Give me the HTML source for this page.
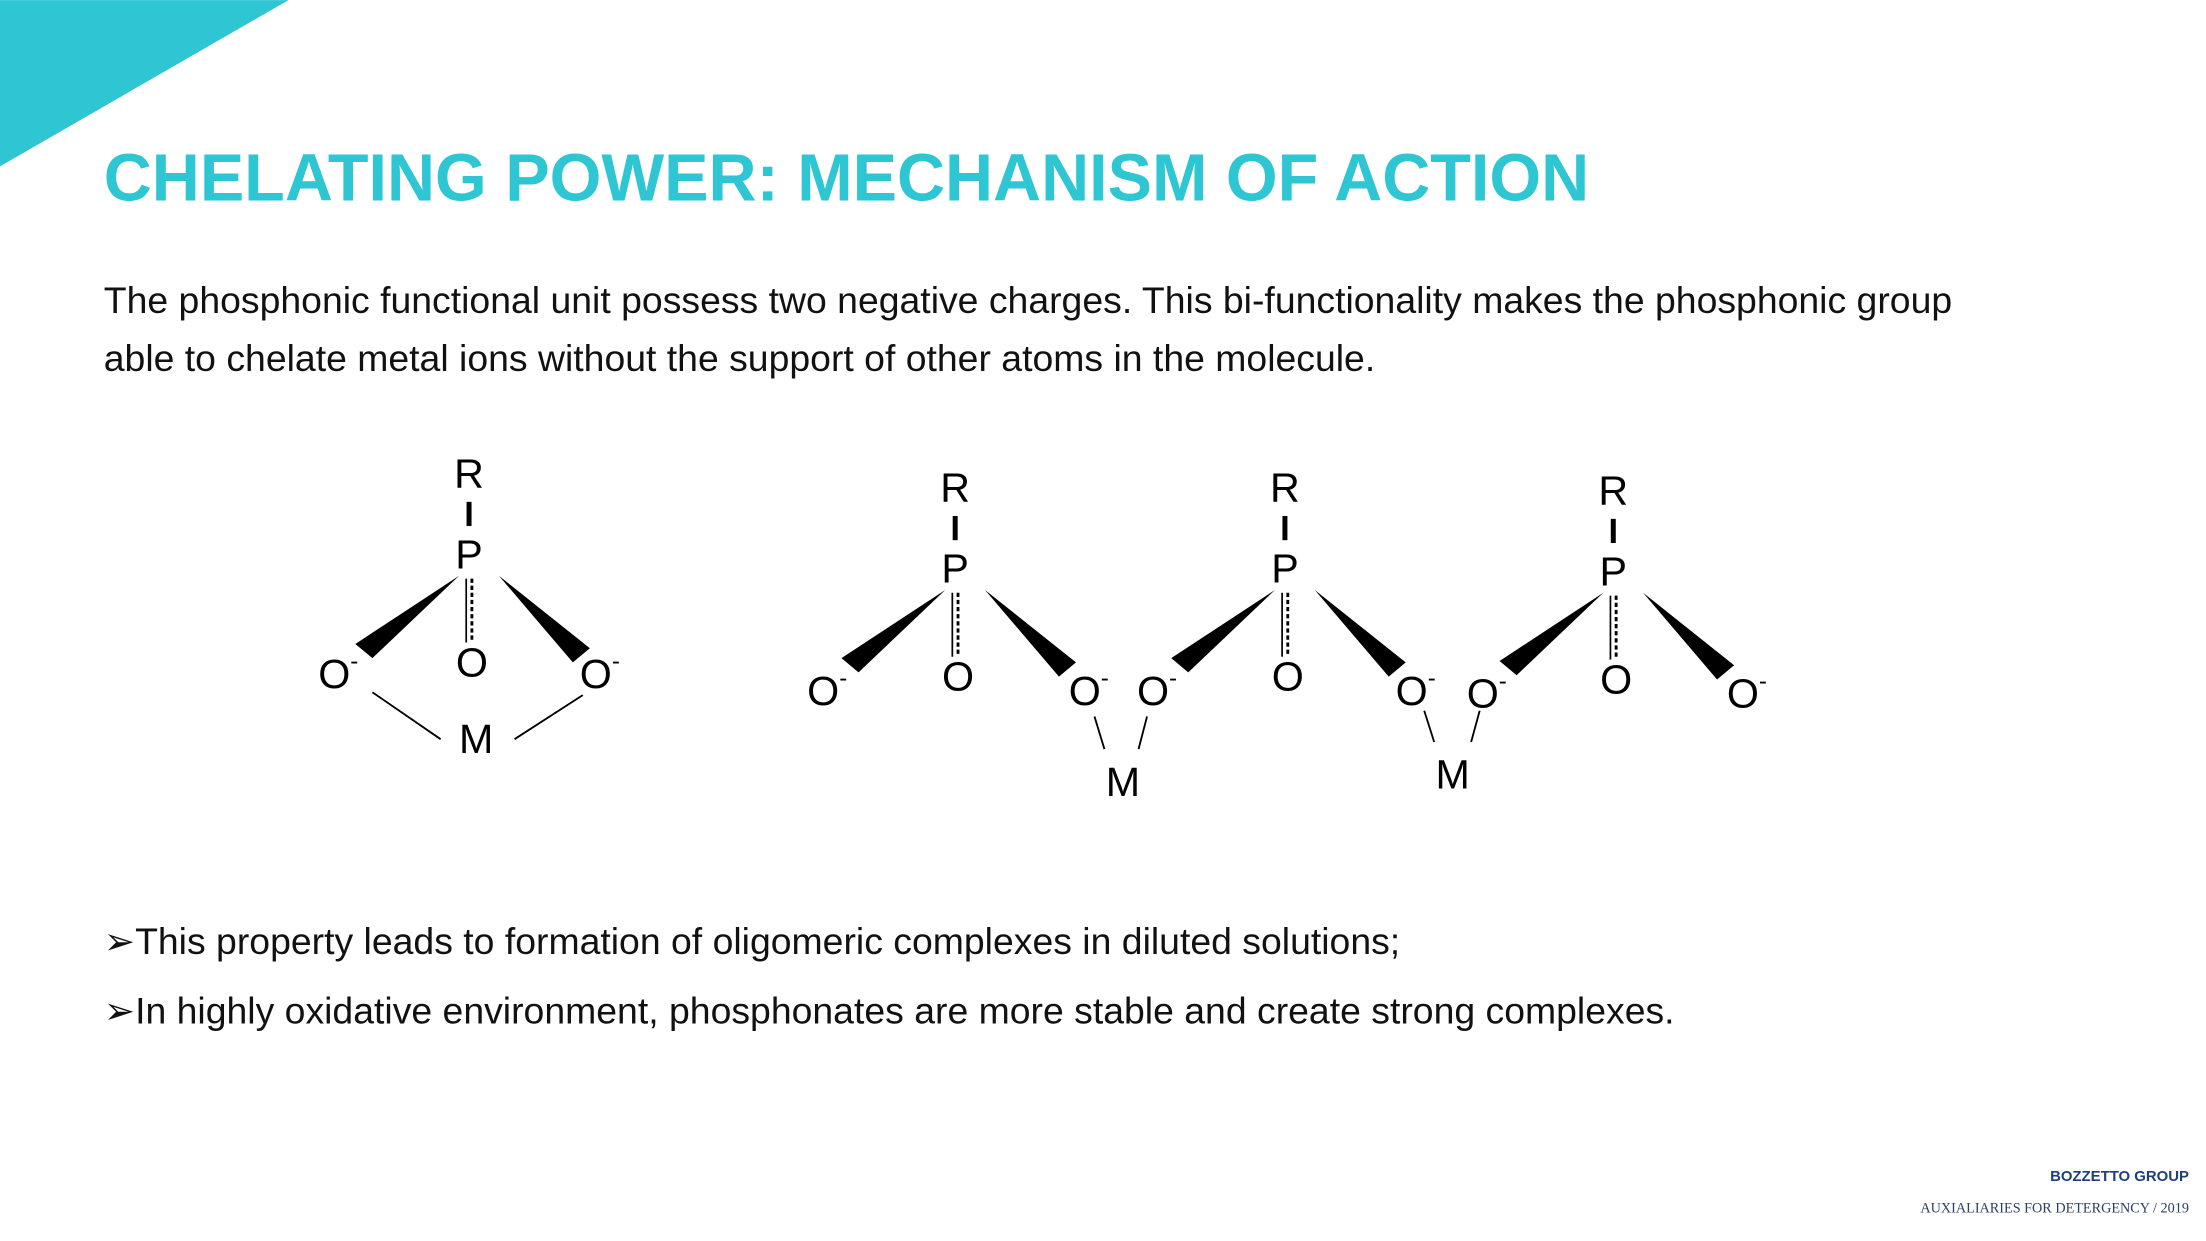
<!DOCTYPE html>
<html><head><meta charset="utf-8"><style>
html,body{margin:0;padding:0;background:#fff;}
svg{display:block;}
</style></head><body>
<svg width="2206" height="1241" viewBox="0 0 1552 873" xmlns="http://www.w3.org/2000/svg">
<defs>
<g id="u">
<text x="0" y="-57" font-family="Liberation Sans, sans-serif" font-size="29" text-anchor="middle" dominant-baseline="central">R</text>
<line x1="0" y1="-37" x2="0" y2="-20" stroke="#000" stroke-width="3.5"/>
<text x="0" y="0" font-family="Liberation Sans, sans-serif" font-size="29" text-anchor="middle" dominant-baseline="central">P</text>
<line x1="-2" y1="17" x2="-2" y2="62" stroke="#000" stroke-width="1.2"/>
<line x1="2" y1="17" x2="2" y2="62" stroke="#000" stroke-width="2" stroke-dasharray="3,2"/>
<text x="2" y="76" font-family="Liberation Sans, sans-serif" font-size="29" text-anchor="middle" dominant-baseline="central">O</text>
<polygon points="-7,15 -80,63 -68,73" fill="#000"/>
<polygon points="21,15 73,76 85,66" fill="#000"/>
</g>
</defs>
<rect width="1552" height="873" fill="#fff"/>
<polygon points="0,0 203,0 0,117" fill="#2ec6d2"/>
<text x="73" y="141" font-family="Liberation Sans, sans-serif" font-weight="bold" font-size="46.8" fill="#2ec6d2">CHELATING POWER: MECHANISM OF ACTION</text>
<text font-family="Liberation Sans, sans-serif" font-size="26.3" fill="#111">
<tspan x="73" y="220">The phosphonic functional unit possess two negative charges. This bi-functionality makes the phosphonic group</tspan>
<tspan x="73" y="261">able to chelate metal ions without the support of other atoms in the molecule.</tspan>
</text>
<g font-family="Liberation Sans, sans-serif" font-size="29" dominant-baseline="central">
<use href="#u" x="330" y="390"/>
<text x="238" y="474" text-anchor="middle">O<tspan font-size="17" dy="-9">-</tspan></text>
<text x="422" y="474" text-anchor="middle">O<tspan font-size="17" dy="-9">-</tspan></text>
<text x="335" y="520" text-anchor="middle">M</text>
<line x1="262" y1="487" x2="310" y2="520" stroke="#000" stroke-width="1.3"/>
<line x1="362" y1="520" x2="410" y2="489" stroke="#000" stroke-width="1.3"/>

<use href="#u" x="672" y="400"/>
<use href="#u" x="904" y="400"/>
<use href="#u" x="1135" y="402"/>
<text x="582" y="486" text-anchor="middle">O<tspan font-size="17" dy="-9">-</tspan></text>
<text x="766" y="486" text-anchor="middle">O<tspan font-size="17" dy="-9">-</tspan></text>
<text x="814" y="486" text-anchor="middle">O<tspan font-size="17" dy="-9">-</tspan></text>
<text x="996" y="486" text-anchor="middle">O<tspan font-size="17" dy="-9">-</tspan></text>
<text x="1046" y="488" text-anchor="middle">O<tspan font-size="17" dy="-9">-</tspan></text>
<text x="1229" y="488" text-anchor="middle">O<tspan font-size="17" dy="-9">-</tspan></text>
<text x="790" y="550" text-anchor="middle">M</text>
<text x="1022" y="545" text-anchor="middle">M</text>
<line x1="770" y1="504" x2="777" y2="527" stroke="#000" stroke-width="1.3"/>
<line x1="807" y1="504" x2="801" y2="527" stroke="#000" stroke-width="1.3"/>
<line x1="1002" y1="500" x2="1009" y2="522" stroke="#000" stroke-width="1.3"/>
<line x1="1041" y1="500" x2="1035" y2="522" stroke="#000" stroke-width="1.3"/>
</g>
<text font-family="Liberation Sans, DejaVu Sans, sans-serif" font-size="26.3" fill="#111">
<tspan x="73" y="671">➢This property leads to formation of oligomeric complexes in diluted solutions;</tspan>
<tspan x="73" y="720">➢In highly oxidative environment, phosphonates  are more stable and create strong complexes.</tspan>
</text>
<text x="1540" y="831" text-anchor="end" font-family="Liberation Sans, sans-serif" font-weight="bold" font-size="10.5" fill="#1f3f7a">BOZZETTO GROUP</text>
<text x="1540" y="853" text-anchor="end" font-family="Liberation Serif, serif" font-size="10" fill="#2a3f66">AUXIALIARIES FOR DETERGENCY / 2019</text>
</svg>
</body></html>
